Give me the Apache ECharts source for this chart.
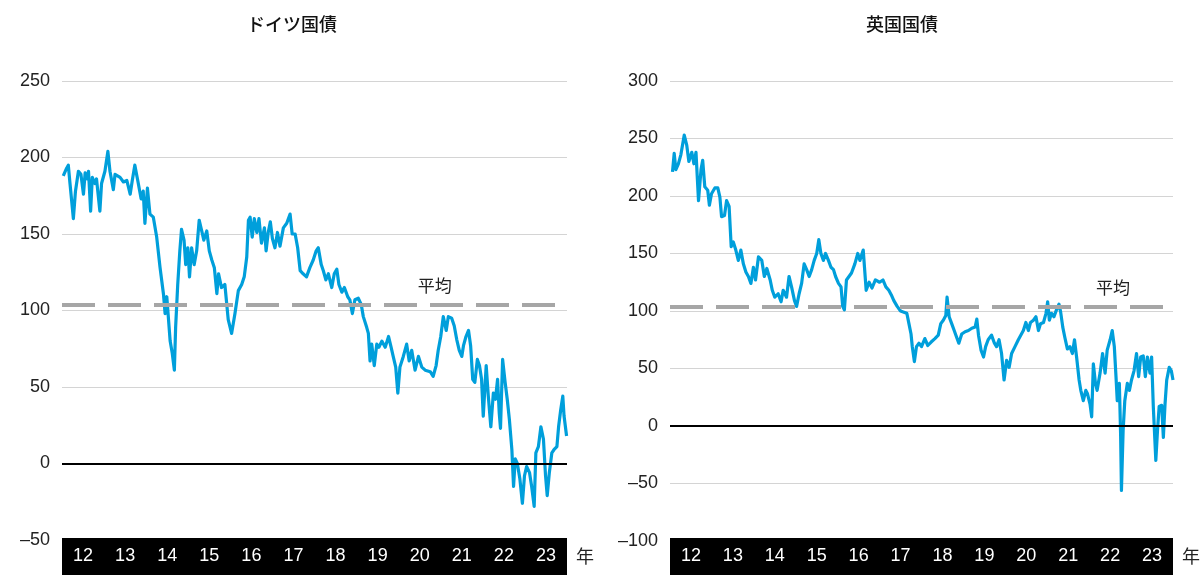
<!DOCTYPE html>
<html>
<head>
<meta charset="utf-8">
<script src="https://cdn.jsdelivr.net/npm/echarts@6/dist/echarts.min.js"></script>
<style>html,body{margin:0;padding:0;background:#fff}#c{width:1203px;height:575px}</style>
</head>
<body>
<div id="c"></div>
<script>
// Year labels on the black band
const yearLabels = ['12','13','14','15','16','17','18','19','20','21','22','23'];

// German Bunds (time as fractional year, value)
const deTime = [2012.03,2012.11,2012.15,2012.19,2012.27,2012.32,2012.39,2012.45,2012.51,2012.55,2012.60,2012.63,2012.68,2012.72,2012.78,2012.82,2012.90,2012.94,2013.02,2013.09,2013.14,2013.22,2013.26,2013.38,2013.46,2013.54,2013.62,2013.67,2013.73,2013.80,2013.88,2013.93,2013.97,2014.03,2014.09,2014.17,2014.25,2014.33,2014.41,2014.45,2014.49,2014.57,2014.62,2014.67,2014.70,2014.75,2014.80,2014.84,2014.90,2014.94,2014.99,2015.03,2015.08,2015.14,2015.20,2015.26,2015.32,2015.37,2015.44,2015.50,2015.56,2015.62,2015.68,2015.72,2015.79,2015.87,2015.95,2016.03,2016.11,2016.19,
2016.27,2016.33,2016.39,2016.43,2016.47,2016.52,2016.57,2016.63,2016.68,2016.74,2016.81,2016.85,2016.90,2016.95,2017.00,2017.06,2017.12,2017.18,2017.26,2017.34,2017.42,2017.47,2017.54,2017.60,2017.66,2017.73,2017.81,2017.89,2017.97,2018.04,2018.09,2018.16,2018.21,2018.27,2018.33,2018.41,2018.47,2018.53,2018.58,2018.65,2018.71,2018.79,2018.84,2018.90,2018.96,2019.04,2019.11,2019.16,2019.24,2019.28,2019.32,2019.36,2019.42,2019.48,2019.53,2019.60,2019.68,2019.76,2019.82,2019.87,2019.93,2019.98,2020.03,2020.11,2020.19,2020.25,2020.31,2020.39,2020.47,2020.55,2020.63,
2020.75,2020.82,2020.89,2020.94,2021.00,2021.06,2021.13,2021.18,2021.26,2021.32,2021.38,2021.44,2021.50,2021.54,2021.60,2021.66,2021.71,2021.76,2021.81,2021.87,2021.92,2021.97,2022.01,2022.08,2022.13,2022.19,2022.25,2022.30,2022.35,2022.39,2022.42,2022.47,2022.53,2022.58,2022.63,2022.69,2022.73,2022.77,2022.82,2022.88,2022.94,2022.99,2023.04,2023.11,2023.16,2023.22,2023.26,2023.32,2023.38,2023.44,2023.49,2023.53,2023.58,2023.64,2023.69,2023.76,2023.80,2023.85,2023.90,2023.93,2023.99];
const deValue = [188,193,195,183,160,178,191,189,176,190,186,191,165,187,183,186,165,183,191,204,191,179,189,187,184,185,176,185,195,185,173,178,157,180,163,161,148,128,111,98,109,80,72,61,89,117,139,153,146,130,141,122,141,130,139,159,152,146,152,139,133,128,111,124,115,117,94,85,98,113,
117,122,135,159,161,148,160,151,160,144,154,139,151,158,147,141,151,142,154,157,163,150,150,141,126,124,122,128,133,139,141,130,126,120,124,115,124,127,117,112,115,109,107,98,107,108,104,96,89,85,67,78,64,78,76,80,76,83,76,70,63,46,63,70,78,67,74,61,70,63,61,
60,57,64,74,83,96,87,96,95,90,81,74,70,77,83,87,77,55,53,68,64,55,31,64,44,24,46,42,55,33,23,68,53,42,29,9,-15,3,0,-10,-26,-8,-2,-6,-15,-28,7,11,24,16,-8,-21,-6,7,9,11,24,35,44,31,18];
const deAvg = 104;
const deAvgLabelTime = 2020.86;

// UK Gilts
const ukTime = [2012.06,2012.10,2012.14,2012.20,2012.26,2012.34,2012.40,2012.45,2012.52,2012.57,2012.62,2012.68,2012.74,2012.78,2012.83,2012.90,2012.94,2012.99,2013.07,2013.14,2013.19,2013.23,2013.30,2013.35,2013.41,2013.46,2013.51,2013.57,2013.63,2013.69,2013.75,2013.81,2013.87,2013.93,2013.99,2014.04,2014.11,2014.19,2014.25,2014.31,2014.39,2014.44,2014.50,2014.58,2014.65,2014.70,2014.78,2014.84,2014.90,2014.97,2015.02,2015.08,2015.14,2015.20,2015.26,2015.32,2015.38,2015.44,2015.50,2015.55,2015.60,2015.66,2015.71,2015.78,2015.84,2015.90,2015.95,2016.02,2016.08,2016.12,2016.16,2016.21,2016.27,2016.33,2016.41,2016.48,2016.53,2016.61,
2016.68,2016.75,2016.82,2016.90,2017.00,2017.08,2017.15,2017.22,2017.28,2017.34,2017.42,2017.50,2017.58,2017.65,2017.70,2017.75,2017.78,2017.83,2017.88,2017.94,2018.00,2018.08,2018.15,2018.23,2018.32,2018.40,2018.46,2018.52,2018.58,2018.61,2018.66,2018.72,2018.78,2018.84,2018.89,2018.96,2019.04,2019.12,2019.20,2019.28,2019.32,2019.36,2019.42,2019.48,2019.53,2019.59,2019.67,2019.74,2019.79,2019.85,2019.91,2019.97,2020.03,2020.09,2020.15,2020.23,2020.31,2020.43,
2020.49,2020.55,2020.60,2020.67,2020.73,2020.79,2020.84,2020.91,2020.97,2021.01,2021.05,2021.10,2021.16,2021.22,2021.28,2021.32,2021.37,2021.42,2021.48,2021.54,2021.60,2021.65,2021.70,2021.76,2021.80,2021.86,2021.92,2021.96,2022.02,2022.06,2022.10,2022.15,2022.19,2022.26,2022.32,2022.38,2022.43,2022.50,2022.55,2022.60,2022.64,2022.67,2022.72,2022.75,2022.77,2022.81,2022.85,2022.91,2022.96,2023.01,2023.07,2023.13,2023.18,2023.23,2023.29,2023.34,2023.39,2023.45,2023.49,2023.53,2023.59,2023.63,2023.67,2023.73,2023.77,2023.81,2023.85,2023.91,2023.96,2024.00];
const ukValue = [221,237,223,228,236,253,244,230,238,228,238,196,223,231,208,205,192,202,207,207,199,182,183,196,191,156,160,153,144,153,141,134,130,124,138,127,147,144,130,137,127,118,112,115,108,118,112,130,121,109,104,115,124,141,136,130,136,144,150,162,150,144,150,144,138,136,130,124,121,104,101,127,130,133,141,150,144,153,
118,125,120,127,125,127,121,118,114,109,104,100,99,98,89,80,69,56,69,72,69,76,70,73,76,79,89,92,96,112,95,89,83,77,72,80,82,83,85,86,93,79,66,60,69,75,79,72,69,75,63,40,57,51,63,69,75,83,
90,83,90,92,95,83,89,90,98,108,92,98,95,101,106,99,86,77,67,69,63,75,60,40,31,22,31,28,19,8,54,37,31,46,63,46,66,75,83,69,43,22,37,-7,-56,-4,22,37,31,40,48,63,43,60,61,43,60,46,60,17,-30,-4,17,18,-10,19,40,51,48,40];
const ukAvg = 103.5;
const ukAvgLabelTime = 2022.57;

const BLUE = '#009fdb';
const FONT = '"Liberation Sans", Arial, sans-serif';
const JFONT = '"Noto Sans CJK JP", "Liberation Sans", sans-serif';

function zip(t, v) { return t.map((x, i) => [x, v[i]]); }
function fmt(v) { return v < 0 ? '\u2013' + Math.abs(v) : String(v); }

const grids = [
  { left: 62, top: 81, width: 505, height: 459 },
  { left: 670, top: 81, width: 503, height: 460 }
];

function valueX(gi) {
  return { type: 'value', gridIndex: gi, min: 2012, max: 2024, show: false };
}
function bandX(gi) {
  return {
    type: 'category', gridIndex: gi, data: yearLabels, position: 'bottom',
    offset: gi === 0 ? 16.5 : 15.5, boundaryGap: true,
    axisLine: { onZero: false, lineStyle: { color: '#000', width: 38, cap: 'butt' } },
    axisTick: { show: false }, splitLine: { show: false },
    axisLabel: { color: '#fff', fontSize: 18, fontFamily: FONT, margin: 0, verticalAlign: 'middle' },
    name: '年', nameLocation: 'end', nameGap: 9,
    nameTextStyle: { color: '#222', fontSize: 18, fontFamily: JFONT, verticalAlign: 'middle' }
  };
}
function yAx(gi, min, max) {
  return {
    type: 'value', gridIndex: gi, min: min, max: max, interval: 50,
    axisLine: { show: false }, axisTick: { show: false },
    axisLabel: { color: '#222', fontSize: 18, fontFamily: FONT, margin: 12, formatter: fmt },
    splitLine: { lineStyle: { color: '#d4d4d4', width: 1.2 } }
  };
}
function refSeries(ai, avg, labelT) {
  return {
    type: 'line', xAxisIndex: ai, yAxisIndex: ai, data: [], z: 1, silent: true,
    markLine: {
      symbol: 'none', silent: true, animation: false, label: { show: false },
      data: [
        { yAxis: 0, lineStyle: { color: '#000', width: 2, type: 'solid' } },
        { yAxis: avg, lineStyle: { color: '#a6a6a6', width: 4, type: [33, 13] } }
      ]
    },
    markPoint: {
      symbol: 'rect', symbolSize: 1, itemStyle: { color: 'rgba(0,0,0,0)' }, animation: false,
      data: [{ coord: [labelT, avg], label: { show: true, formatter: '平均', position: 'top', distance: 10,
        color: '#222', fontSize: 17, fontFamily: JFONT } }]
    }
  };
}
function dataSeries(ai, t, v) {
  return {
    type: 'line', xAxisIndex: ai, yAxisIndex: ai, data: zip(t, v), z: 3,
    showSymbol: false, symbol: 'none', lineStyle: { color: BLUE, width: 3.2, join: 'round' }, itemStyle: { color: BLUE }
  };
}

const chart = echarts.init(document.getElementById('c'), null, { renderer: 'canvas' });
chart.setOption({
  animation: false,
  backgroundColor: '#fff',
  title: [
    { text: 'ドイツ国債', left: 287, top: 10, textAlign: 'center', textStyle: { fontSize: 18, fontWeight: 500, color: '#111', fontFamily: JFONT } },
    { text: '英国国債', left: 897, top: 10, textAlign: 'center', textStyle: { fontSize: 18, fontWeight: 500, color: '#111', fontFamily: JFONT } }
  ],
  grid: grids,
  xAxis: [valueX(0), valueX(1), bandX(0), bandX(1)],
  yAxis: [yAx(0, -50, 250), yAx(1, -100, 300)],
  series: [
    refSeries(0, deAvg, deAvgLabelTime),
    refSeries(1, ukAvg, ukAvgLabelTime),
    dataSeries(0, deTime, deValue),
    dataSeries(1, ukTime, ukValue)
  ]
});
</script>
</body>
</html>
